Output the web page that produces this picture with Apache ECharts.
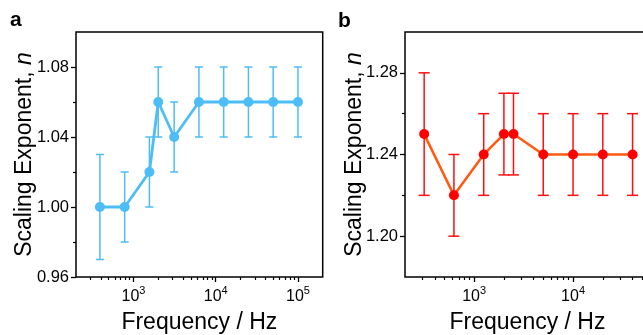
<!DOCTYPE html>
<html>
<head>
<meta charset="utf-8">
<script src="https://cdn.jsdelivr.net/npm/echarts@6/dist/echarts.min.js"></script>
<style>
html,body{margin:0;padding:0;background:#fff;}
#chart{width:643px;height:335px;}
</style>
</head>
<body>
<div id="chart"></div>
<script>
// Panel a
const freqA = [390.625, 781.25, 1562.5, 2000, 3125, 6250, 12500, 25000, 50000, 100000];
const nA    = [1.00, 1.00, 1.02, 1.06, 1.04, 1.06, 1.06, 1.06, 1.06, 1.06];
const lowA  = [0.97, 0.98, 1.00, 1.04, 1.02, 1.04, 1.04, 1.04, 1.04, 1.04];
const highA = [1.03, 1.02, 1.04, 1.08, 1.06, 1.08, 1.08, 1.08, 1.08, 1.08];
// Panel b
const freqB = [312.5, 625, 1250, 2000, 2500, 5000, 10000, 20000, 40000];
const nB    = [1.25, 1.22, 1.24, 1.25, 1.25, 1.24, 1.24, 1.24, 1.24];
const lowB  = [1.22, 1.20, 1.22, 1.23, 1.23, 1.22, 1.22, 1.22, 1.22];
const highB = [1.28, 1.24, 1.26, 1.27, 1.27, 1.26, 1.26, 1.26, 1.26];

// Tick values
const xMajorA = [1000, 10000, 100000];
const xMinorA = [300, 400, 500, 600, 700, 800, 900, 2000, 3000, 4000, 5000, 6000, 7000, 8000, 9000,
                 20000, 30000, 40000, 50000, 60000, 70000, 80000, 90000];
const xMajorB = [1000, 10000];
const xMinorB = [300, 400, 500, 600, 700, 800, 900, 2000, 3000, 4000, 5000, 6000, 7000, 8000, 9000,
                 20000, 30000, 40000, 50000];
const yMajorA = [0.96, 1.00, 1.04, 1.08];
const yMinorA = [0.98, 1.02, 1.06];
const yMajorB = [1.20, 1.24, 1.28];
const yMinorB = [1.22, 1.26];

const FONT = "'Liberation Sans', Arial, Helvetica, sans-serif";
const BLUE = '#4DBDF7';
const RED = '#FF1010';
const ORANGE = '#FF5A10';

const chart = echarts.init(document.getElementById('chart'), null, {renderer: 'canvas'});

function supFmt(v) {
  const e = Math.round(Math.log10(v));
  return '{b|10}{s|' + e + '}';
}
const richSup = {
  b: {fontSize: 16, fontFamily: FONT, color: '#000', lineHeight: 20, verticalAlign: 'bottom'},
  s: {fontSize: 11, fontFamily: FONT, color: '#000', lineHeight: 20, verticalAlign: 'top', padding: [0, 0, 6, 0]}
};

function majorX(grid, min, max, ticks) {
  return {
    type: 'log', gridIndex: grid, min: min, max: max,
    axisLine: {show: false},
    splitLine: {show: false},
    axisTick: {show: true, inside: false, length: 5, customValues: ticks, lineStyle: {color: '#000', width: 1.3}},
    axisLabel: {show: true, customValues: ticks, margin: 8, formatter: supFmt, rich: richSup},
    name: 'Frequency / Hz', nameLocation: 'middle', nameGap: 34, nameMoveOverlap: false,
    nameTextStyle: {fontSize: 23, fontFamily: FONT, color: '#000'}
  };
}
function minorX(grid, min, max, ticks) {
  return {
    type: 'log', gridIndex: grid, min: min, max: max, position: 'bottom', offset: 0,
    axisLine: {show: false}, splitLine: {show: false},
    axisTick: {show: true, inside: false, length: 3, customValues: ticks, lineStyle: {color: '#000', width: 1.2}},
    axisLabel: {show: false}
  };
}
function majorY(grid, min, max, interval, ticks, gap) {
  return {
    type: 'value', gridIndex: grid, min: min, max: max, interval: interval, position: 'left', offset: 0,
    axisLine: {show: false}, splitLine: {show: false},
    axisTick: {show: true, inside: false, length: 5, customValues: ticks, lineStyle: {color: '#000', width: 1.3}},
    axisLabel: {show: true, customValues: ticks, margin: 7, fontSize: 16.5, fontFamily: FONT, color: '#000',
                formatter: v => v.toFixed(2)},
    name: 'Scaling Exponent, {i|n}', nameLocation: 'middle', nameGap: gap, nameMoveOverlap: false,
    nameTextStyle: {fontSize: 23, fontFamily: FONT, color: '#000',
      rich: {i: {fontSize: 23, fontFamily: FONT, fontStyle: 'italic', color: '#000'}}}
  };
}
function minorY(grid, min, max, ticks) {
  return {
    type: 'value', gridIndex: grid, min: min, max: max, position: 'left', offset: 0,
    axisLine: {show: false}, splitLine: {show: false},
    axisTick: {show: true, inside: false, length: 3, customValues: ticks, lineStyle: {color: '#000', width: 1.2}},
    axisLabel: {show: false}
  };
}

function errSeries(xi, yi, freq, low, high, color, cap) {
  return {
    type: 'custom', xAxisIndex: xi, yAxisIndex: yi, z: 1, silent: true,
    data: freq.map((f, i) => [f, low[i], high[i]]),
    renderItem: function (params, api) {
      const x = api.value(0);
      const pLo = api.coord([x, api.value(1)]);
      const pHi = api.coord([x, api.value(2)]);
      const st = {stroke: color, lineWidth: 1.5};
      return {
        type: 'group',
        children: [
          {type: 'line', shape: {x1: pLo[0], y1: pLo[1], x2: pHi[0], y2: pHi[1]}, style: st},
          {type: 'line', shape: {x1: pLo[0] - cap, y1: pLo[1], x2: pLo[0] + cap, y2: pLo[1]}, style: st},
          {type: 'line', shape: {x1: pHi[0] - cap, y1: pHi[1], x2: pHi[0] + cap, y2: pHi[1]}, style: st}
        ]
      };
    }
  };
}

const option = {
  animation: false,
  textStyle: {fontFamily: FONT},
  grid: [
    {left: 76, top: 32, width: 246.7, height: 245, show: true, borderColor: '#000', borderWidth: 1.5,
     backgroundColor: 'transparent', containLabel: false, outerBoundsMode: 'none'},
    {left: 405, top: 32, width: 245, height: 245, show: true, borderColor: '#000', borderWidth: 1.5,
     backgroundColor: 'transparent', containLabel: false, outerBoundsMode: 'none'}
  ],
  xAxis: [
    majorX(0, 200, 200000, xMajorA),
    minorX(0, 200, 200000, xMinorA),
    majorX(1, 200, 60000, xMajorB),
    minorX(1, 200, 60000, xMinorB)
  ],
  yAxis: [
    majorY(0, 0.96, 1.10, 0.04, yMajorA, 40),
    minorY(0, 0.96, 1.10, yMinorA),
    majorY(1, 1.18, 1.30, 0.02, yMajorB, 39),
    minorY(1, 1.18, 1.30, yMinorB)
  ],
  graphic: [
    {type: 'text', left: 10, top: 10, style: {text: 'a', fontSize: 21, fontWeight: 'bold', fontFamily: FONT, fill: '#000'}},
    {type: 'text', left: 338, top: 11, style: {text: 'b', fontSize: 21, fontWeight: 'bold', fontFamily: FONT, fill: '#000'}}
  ],
  series: [
    errSeries(0, 0, freqA, lowA, highA, BLUE, 4),
    {
      type: 'line', xAxisIndex: 0, yAxisIndex: 0, z: 3,
      data: freqA.map((f, i) => [f, nA[i]]),
      symbol: 'circle', symbolSize: 10, showSymbol: true,
      itemStyle: {color: BLUE}, lineStyle: {color: BLUE, width: 2.8}
    },
    errSeries(2, 2, freqB, lowB, highB, RED, 5.5),
    {
      type: 'line', xAxisIndex: 2, yAxisIndex: 2, z: 3,
      data: freqB.map((f, i) => [f, nB[i]]),
      symbol: 'circle', symbolSize: 10, showSymbol: true,
      itemStyle: {color: '#FF0000'}, lineStyle: {color: ORANGE, width: 2.5}
    }
  ]
};
chart.setOption(option);
</script>
</body>
</html>
